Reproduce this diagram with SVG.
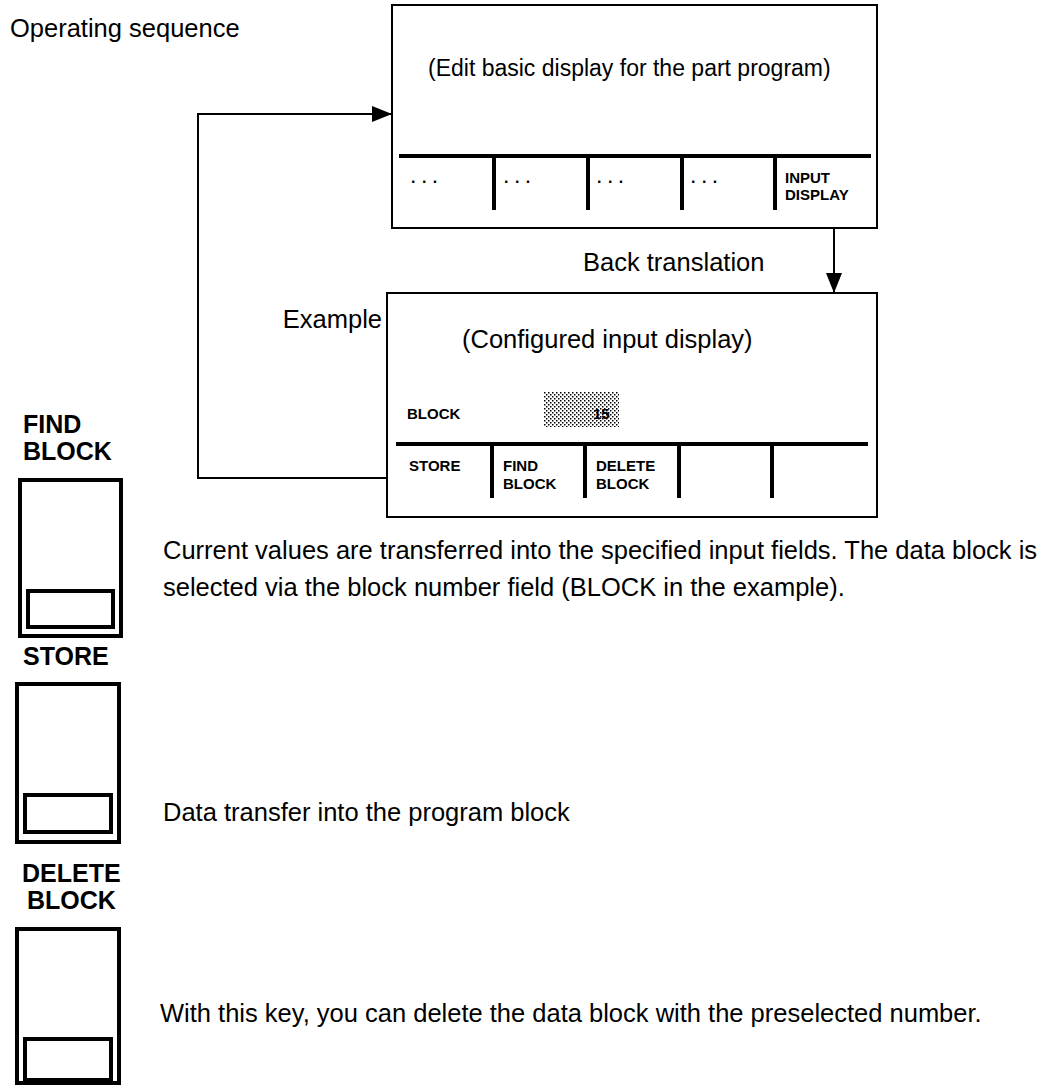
<svg xmlns="http://www.w3.org/2000/svg" width="1059" height="1086" viewBox="0 0 1059 1086">
<style>
text{font-family:"Liberation Sans",Arial,sans-serif;fill:#000}
.t{font-size:25.5px}
.tt{font-size:23px}
.s{font-size:15px;font-weight:bold}
.k{font-size:25px;font-weight:bold}
.d{font-size:16px;font-weight:bold;letter-spacing:1px}
.box{fill:#fff;stroke:#000;stroke-width:2}
.bar{stroke:#000;stroke-width:4;fill:none}
.key{fill:#fff;stroke:#000;stroke-width:4}
.conn{fill:none;stroke:#000;stroke-width:2}
</style>
<defs>
<marker id="arr" markerUnits="userSpaceOnUse" markerWidth="20" markerHeight="16" refX="20" refY="8" orient="auto">
<path d="M0,0 L20,8 L0,16 z" fill="#000"/>
</marker>
<pattern id="dots" width="4" height="4" patternUnits="userSpaceOnUse">
<rect width="4" height="4" fill="#fff"/>
<rect x="0" y="0" width="1.5" height="1.5" fill="#000"/>
<rect x="2" y="2" width="1.5" height="1.5" fill="#000"/>
</pattern>
</defs>
<rect width="1059" height="1086" fill="#fff"/>
<text class="t" x="10" y="37">Operating sequence</text>

<g id="connectors">
<polyline class="conn" points="387,478 198,478 198,114 392,114" marker-end="url(#arr)"/>
<line class="conn" x1="834" y1="228" x2="834" y2="293" marker-end="url(#arr)"/>
</g>

<g id="basic-display">
<rect class="box" x="392" y="5" width="485" height="223"/>
<text class="tt" x="428" y="76">(Edit basic display for the part program)</text>
<line class="bar" x1="399" y1="156" x2="871" y2="156"/>
<line class="bar" x1="494" y1="156" x2="494" y2="210"/>
<line class="bar" x1="588" y1="156" x2="588" y2="210"/>
<line class="bar" x1="682" y1="156" x2="682" y2="210"/>
<line class="bar" x1="775" y1="156" x2="775" y2="210"/>
<text class="d" x="411" y="183">. . .</text>
<text class="d" x="504" y="183">. . .</text>
<text class="d" x="597" y="183">. . .</text>
<text class="d" x="691" y="183">. . .</text>
<text class="s" x="785" y="183">INPUT</text>
<text class="s" x="785" y="200">DISPLAY</text>
</g>

<text class="t" x="583" y="271">Back translation</text>
<text class="t" x="382" y="328" text-anchor="end">Example</text>

<g id="input-display">
<rect class="box" x="387" y="293" width="490" height="224"/>
<text class="t" x="462" y="348">(Configured input display)</text>
<text class="s" x="407" y="419">BLOCK</text>
<rect x="544" y="392" width="75" height="35" fill="url(#dots)"/>
<text class="s" x="593" y="419">15</text>
<line class="bar" x1="396" y1="444" x2="868" y2="444"/>
<line class="bar" x1="492" y1="444" x2="492" y2="498"/>
<line class="bar" x1="585" y1="444" x2="585" y2="498"/>
<line class="bar" x1="679" y1="444" x2="679" y2="498"/>
<line class="bar" x1="772" y1="444" x2="772" y2="498"/>
<text class="s" x="409" y="471">STORE</text>
<text class="s" x="503" y="471">FIND</text>
<text class="s" x="503" y="489">BLOCK</text>
<text class="s" x="596" y="471">DELETE</text>
<text class="s" x="596" y="489">BLOCK</text>
</g>

<g id="key-find-block">
<text class="k" x="23" y="433">FIND</text>
<text class="k" x="23" y="460">BLOCK</text>
<rect class="key" x="20" y="480" width="101" height="156"/>
<rect class="key" x="28" y="591" width="85" height="36"/>
</g>
<text class="t" x="163" y="559">Current values are transferred into the specified input fields. The data block is</text>
<text class="t" x="163" y="596">selected via the block number field (BLOCK in the example).</text>

<g id="key-store">
<text class="k" x="23" y="665">STORE</text>
<rect class="key" x="17" y="684" width="102" height="158"/>
<rect class="key" x="25" y="795" width="86" height="37"/>
</g>
<text class="t" x="163" y="821">Data transfer into the program block</text>

<g id="key-delete-block">
<text class="k" x="22" y="882">DELETE</text>
<text class="k" x="27" y="909">BLOCK</text>
<rect class="key" x="17" y="929" width="102" height="154"/>
<rect class="key" x="25" y="1039" width="86" height="41"/>
</g>
<text class="t" x="160" y="1022">With this key, you can delete the data block with the preselected number.</text>
</svg>
